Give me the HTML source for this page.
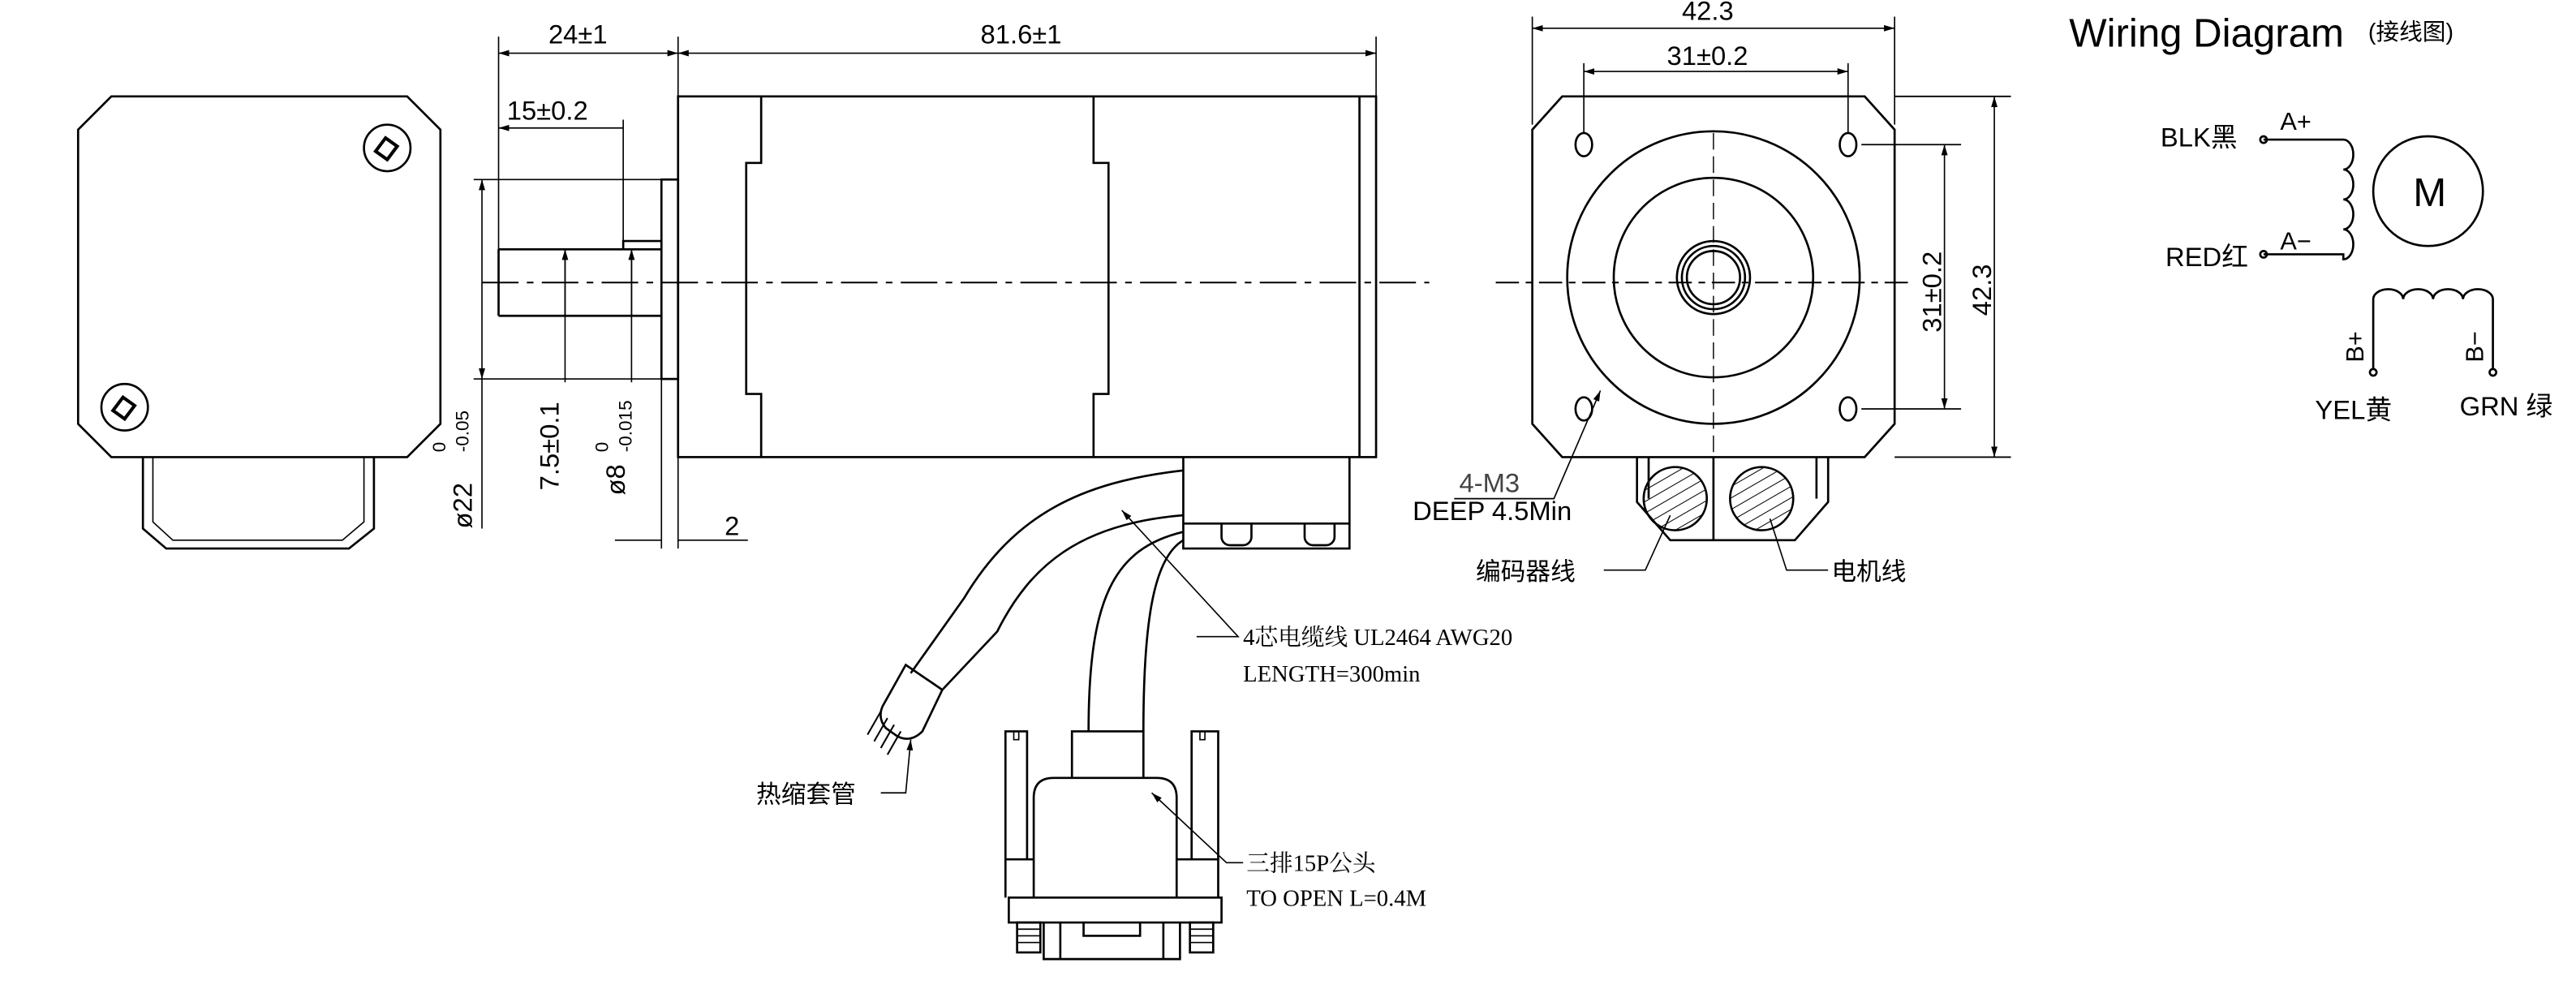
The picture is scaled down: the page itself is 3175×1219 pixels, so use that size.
<!DOCTYPE html>
<html><head><meta charset="utf-8"><style>html,body{margin:0;padding:0;background:#fff}svg{display:block}</style></head><body>
<svg width="3175" height="1219" viewBox="0 0 1550 595" preserveAspectRatio="none" xmlns="http://www.w3.org/2000/svg" font-family="Liberation Sans, Noto Sans CJK SC, sans-serif">
<defs>
<marker id="a" viewBox="0 0 10 10" refX="10" refY="5" markerWidth="8" markerHeight="8" orient="auto-start-reverse"><path d="M0,2 L10,5 L0,8z" fill="#000"/></marker>
<pattern id="h" width="6" height="6" patternUnits="userSpaceOnUse" patternTransform="rotate(60)"><line x1="0" y1="0" x2="0" y2="6" stroke="#000" stroke-width="1"/></pattern>
</defs>
<g fill="none" stroke="#000" stroke-width="1.3">
<path d="M67,58 H245 L265,78 V255 L245,275 H67 L47,255 V78 Z"/>
<path d="M86,275 V318 L100,330 H210 L225,318 V275"/><path d="M92,275 V314 L104,325 H206 L219,314 V275" stroke-width="0.8"/>
<circle cx="233" cy="89" r="14"/><circle cx="75" cy="245" r="14"/>
<path d="M226,91 l6,-8 l7,5 l-6,8 z M68,247 l6,-8 l7,5 l-6,8 z" stroke-width="2"/>
<rect x="408" y="58" width="420" height="217"/>
<path d="M818,58 V275"/>
<path d="M458,58 V98 H449 V237 H458 V275 M658,58 V98 H667 V237 H658 V275"/>
<rect x="398" y="108" width="10" height="120"/>
<path d="M300,150 H398 M300,190 H398 M300,150 V190 M375,150 V145 H398"/>
<path d="M712,275 V330 H812 V275 M712,315 H812"/>
<path d="M735,315 v8 a5,5 0 0 0 5,5 h8 a5,5 0 0 0 5,-5 v-8 M785,315 v8 a5,5 0 0 0 5,5 h8 a5,5 0 0 0 5,-5 v-8"/>
<path d="M290,170 H860" stroke-dasharray="22,5,4,5" stroke-width="1"/>
<path d="M300,22 V150 M408,22 V58 M828,22 V58" stroke-width="0.8"/>
<path d="M300,32 H408" marker-start="url(#a)" marker-end="url(#a)" stroke-width="0.8"/>
<path d="M408,32 H828" marker-start="url(#a)" marker-end="url(#a)" stroke-width="0.8"/>
<path d="M300,77 H375 M375,72 V145" stroke-width="0.8" marker-start="url(#a)"/>
<path d="M285,108 H398 M285,228 H398" stroke-width="0.8"/>
<path d="M290,108 V228" marker-start="url(#a)" marker-end="url(#a)" stroke-width="0.8"/>
<path d="M290,228 V318" stroke-width="0.8"/>
<path d="M340,150 V230 M380,150 V230" stroke-width="0.8"/>
<path d="M340,190 V150" stroke-width="0.8" marker-end="url(#a)"/>
<path d="M380,190 V150" stroke-width="0.8" marker-end="url(#a)"/>
<path d="M398,228 V330 M408,275 V330 M370,325 H398 M408,325 H450" stroke-width="0.8"/>
<path d="M940,58 H1122 L1140,78 V255 L1122,275 H940 L922,255 V78 Z"/>
<circle cx="1031" cy="167" r="88"/><circle cx="1031" cy="167" r="60"/>
<circle cx="1031" cy="167" r="22"/><circle cx="1031" cy="167" r="19"/><circle cx="1031" cy="167" r="16"/>
<ellipse cx="953" cy="87" rx="5" ry="7"/><ellipse cx="1112" cy="87" rx="5" ry="7"/><ellipse cx="953" cy="246" rx="5" ry="7"/><ellipse cx="1112" cy="246" rx="5" ry="7"/>
<path d="M900,170 H1150" stroke-dasharray="14,4,4,4" stroke-width="1"/>
<path d="M1031,80 V280" stroke-dasharray="10,4" stroke-width="0.7"/>
<path d="M922,10 V75 M1140,10 V75" stroke-width="0.8"/>
<path d="M922,17 H1140" stroke-width="0.8" marker-start="url(#a)" marker-end="url(#a)"/>
<path d="M953,38 V80 M1112,38 V80" stroke-width="0.8"/>
<path d="M953,43 H1112" stroke-width="0.8" marker-start="url(#a)" marker-end="url(#a)"/>
<path d="M1120,87 H1180 M1120,246 H1180 M1140,58 H1210 M1140,275 H1210" stroke-width="0.9"/>
<path d="M1170,87 V246" stroke-width="0.8" marker-start="url(#a)" marker-end="url(#a)"/>
<path d="M1200,58 V275" stroke-width="0.8" marker-start="url(#a)" marker-end="url(#a)"/>
<path d="M875,300 H935 L963,235" stroke-width="0.8" marker-end="url(#a)"/>
<path d="M985,275 V302 L1005,325 H1080 L1100,302 V275"/>
<path d="M992,275 V300 M1093,275 V300 M1031,275 V325"/>
<circle cx="1008" cy="300" r="19" fill="url(#h)"/><circle cx="1060" cy="300" r="19" fill="url(#h)"/>
<path d="M965,343 H990 L1005,310" stroke-width="0.8"/>
<path d="M1100,343 H1075 L1065,312" stroke-width="0.8"/>
<path d="M712,283 C650,290 610,310 580,360 L548,405"/>
<path d="M712,310 C650,315 620,340 600,380 L567,415"/>
<path d="M712,320 C670,330 655,360 655,440"/>
<path d="M712,325 C695,335 688,370 688,440"/>
<path d="M545,400 L567,415 L555,440 Q548,447 540,443 L533,438 Q528,432 531,425 Z"/>
<path d="M530,428 l-8,14 M534,432 l-8,14 M538,436 l-8,14 M542,440 l-8,14" stroke-width="1"/>
<path d="M720,383 H745 L675,307" stroke-width="0.8" marker-end="url(#a)"/>
<path d="M530,477 H545 L548,445" stroke-width="0.8" marker-end="url(#a)"/>
<path d="M645,468 V440 H688 V468"/>
<path d="M605,517 V440 H618 V517 M717,517 V440 H733 V517" />
<path d="M610,440 v5 h3 v-5 M722,440 v5 h3 v-5" stroke-width="0.8"/>
<path d="M622,540 V480 Q622,468 634,468 H696 Q708,468 708,480 V540"/>
<path d="M605,540 V517 H622 M733,540 V517 H708"/>
<rect x="607" y="540" width="128" height="15"/>
<path d="M628,555 V577 H710 V555 M638,555 V577 M700,555 V577 M652,555 V563 H686 V555"/>
<rect x="612" y="555" width="14" height="18"/><rect x="716" y="555" width="14" height="18"/>
<path d="M612,559 h14 M612,563 h14 M612,567 h14 M716,559 h14 M716,563 h14 M716,567 h14" stroke-width="0.8"/>
<path d="M748,519 H738 L693,477" stroke-width="0.8" marker-end="url(#a)"/>
<circle cx="1461" cy="115" r="33"/>
<path d="M1362,84 H1410 a6,9 0 0 1 0,18 a6,9 0 0 1 0,18 a6,9 0 0 1 0,18 a6,9 0 0 1 0,18 V153 H1362"/>
<circle cx="1362" cy="84" r="2"/><circle cx="1362" cy="153" r="2"/>
<path d="M1428,222 V180 a9,6 0 0 1 18,0 a9,6 0 0 1 18,0 a9,6 0 0 1 18,0 a9,6 0 0 1 18,0 V222"/>
<circle cx="1428" cy="224" r="2"/><circle cx="1500" cy="224" r="2"/>
</g>
<g font-size="16" fill="#000">
<text x="330" y="26">24±1</text><text x="590" y="26">81.6±1</text>
<text x="305" y="72">15±0.2</text>
<text x="436" y="322">2</text>
<text transform="translate(284,318) rotate(-90)">ø22</text>
<text transform="translate(268,272) rotate(-90)" font-size="11">0</text>
<text transform="translate(282,272) rotate(-90)" font-size="11">-0.05</text>
<text transform="translate(336,295) rotate(-90)">7.5±0.1</text>
<text transform="translate(376,298) rotate(-90)">ø8</text>
<text transform="translate(366,272) rotate(-90)" font-size="11">0</text>
<text transform="translate(380,272) rotate(-90)" font-size="11">-0.015</text>
<text x="1012" y="12">42.3</text><text x="1003" y="39">31±0.2</text>
<text transform="translate(1168,200) rotate(-90)">31±0.2</text>
<text transform="translate(1198,190) rotate(-90)">42.3</text>
<text x="878" y="296" fill="#444">4-M3</text>
<text x="850" y="313">DEEP  4.5Min</text>
<text x="888" y="349" font-size="15">编码器线</text>
<text x="1102" y="349" font-size="15">电机线</text>
<text x="748" y="388" font-size="14" font-family="Liberation Serif, Noto Serif CJK SC, serif">4芯电缆线 UL2464 AWG20</text>
<text x="748" y="410" font-size="14" font-family="Liberation Serif, serif">LENGTH=300min</text>
<text x="455" y="483" font-size="15">热缩套管</text>
<text x="750" y="524" font-size="14" font-family="Liberation Serif, Noto Serif CJK SC, serif">三排15P公头</text>
<text x="750" y="545" font-size="14" font-family="Liberation Serif, serif">TO OPEN L=0.4M</text>
<text x="1245" y="28" font-size="24" font-weight="300">Wiring Diagram</text>
<text x="1425" y="24" font-size="14">(接线图)</text>
<text x="1300" y="88" font-size="16">BLK黑</text><text x="1372" y="78" font-size="15">A+</text>
<text x="1303" y="160" font-size="16">RED红</text><text x="1372" y="150" font-size="15">A−</text>
<text x="1452" y="124" font-size="24">M</text>
<text transform="translate(1422,218) rotate(-90)" font-size="15">B+</text>
<text transform="translate(1494,218) rotate(-90)" font-size="15">B−</text>
<text x="1393" y="252" font-size="16">YEL黄</text><text x="1480" y="250" font-size="16">GRN 绿</text>
</g>
</svg>
</body></html>
